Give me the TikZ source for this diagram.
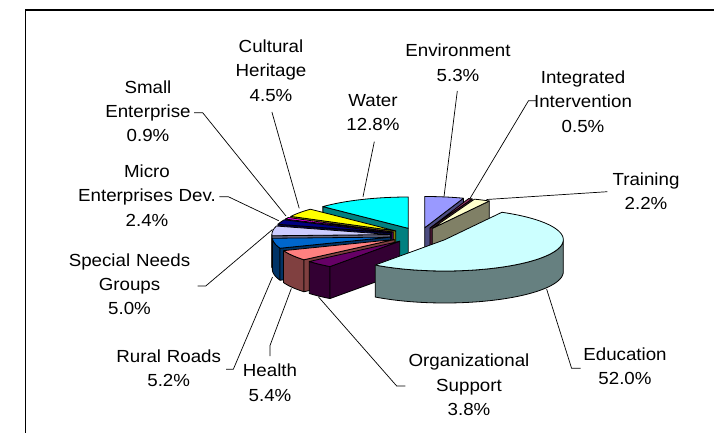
\documentclass[tikz,border=0pt]{standalone}
\usepackage{fontspec}
\setmainfont{Liberation Sans}[FakeStretch=1.07]
\definecolor{cEnv}{HTML}{9999FF}
\definecolor{cInt}{HTML}{993366}
\definecolor{cTrn}{HTML}{FFFFCC}
\definecolor{cEdu}{HTML}{CCFFFF}
\definecolor{cOrg}{HTML}{660066}
\definecolor{cHea}{HTML}{FF8080}
\definecolor{cRur}{HTML}{0066CC}
\definecolor{cSpe}{HTML}{CCCCFF}
\definecolor{cMic}{HTML}{000080}
\definecolor{cSma}{HTML}{FF00FF}
\definecolor{cCul}{HTML}{FFFF00}
\definecolor{cWat}{HTML}{00FFFF}
\tikzset{
  lab/.style={text width=170bp, align=center, anchor=base, inner sep=0pt,
    font=\fontsize{17.5bp}{24.4bp}\selectfont},
  leader/.style={line width=0.7bp, black},
  pieface/.style={draw=black, line width=0.8bp, line join=round}
}
\def\CX{419.8}\def\CY{235.5}\def\RA{118.5}\def\RB{31.3}\def\DD{32}\def\EXP{0.25}
\newcommand\pieslice[3]{%
  \pgfmathsetmacro\ts{#1*3.6}%
  \pgfmathsetmacro\te{#2*3.6}%
  \pgfmathsetmacro\tm{(\ts+\te)/2}%
  \pgfmathsetmacro\cxx{\CX+\EXP*\RA*sin(\tm)}%
  \pgfmathsetmacro\cyy{\CY-\EXP*\RB*cos(\tm)}%
  \pgfmathtruncatemacro\ns{max(4,(\te-\ts)/2)}%
  % outer side
  \pgfmathsetmacro\ta{max(\ts,90)}%
  \pgfmathsetmacro\tb{min(\te,270)}%
  \ifdim\ta pt<\tb pt
    \pgfmathtruncatemacro\nss{max(4,(\tb-\ta)/2)}%
    \path[pieface, fill=#3!50!black] plot[domain=\ta:\tb, samples=\nss, variable=\ang] ({\cxx+\RA*sin(\ang)},{\cyy-\RB*cos(\ang)}) -- plot[domain=\tb:\ta, samples=\nss, variable=\ang] ({\cxx+\RA*sin(\ang)},{\cyy-\RB*cos(\ang)+\DD}) -- cycle;
  \fi
  % radial face at start
  \pgfmathtruncatemacro\vs{sin(\ts)<-0.001 ? 1 : 0}%
  \ifnum\vs=1
    \pgfmathsetmacro\px{\cxx+\RA*sin(\ts)}\pgfmathsetmacro\py{\cyy-\RB*cos(\ts)}%
    \path[pieface, fill=#3!50!black] (\cxx,\cyy) -- (\px,\py) -- (\px,{\py+\DD}) -- (\cxx,{\cyy+\DD}) -- cycle;
  \fi
  % radial face at end
  \pgfmathtruncatemacro\ve{sin(\te)>0.001 ? 1 : 0}%
  \ifnum\ve=1
    \pgfmathsetmacro\px{\cxx+\RA*sin(\te)}\pgfmathsetmacro\py{\cyy-\RB*cos(\te)}%
    \path[pieface, fill=#3!50!black] (\cxx,\cyy) -- (\px,\py) -- (\px,{\py+\DD}) -- (\cxx,{\cyy+\DD}) -- cycle;
  \fi
  % top face
  \path[pieface, fill=#3] (\cxx,\cyy) -- plot[domain=\ts:\te, samples=\ns, variable=\ang] ({\cxx+\RA*sin(\ang)},{\cyy-\RB*cos(\ang)}) -- cycle;
}
\begin{document}
\begin{tikzpicture}[x=1bp,y=-1bp]
\useasboundingbox (0,0) rectangle (714,432);
\clip (0,0) rectangle (714,432);
\fill[white] (0,0) rectangle (714,432);
\draw[line width=1.3bp] (25.3,10) rectangle (740,460);

% pie slices (back to front)
\pieslice{0}{5.3}{cEnv}
\pieslice{5.3}{5.8}{cInt}
\pieslice{5.8}{8.0}{cTrn}
\pieslice{87.2}{100}{cWat}
\pieslice{82.7}{87.2}{cCul}
\pieslice{81.8}{82.7}{cSma}
\pieslice{79.4}{81.8}{cMic}
\pieslice{74.4}{79.4}{cSpe}
\pieslice{69.2}{74.4}{cRur}
\pieslice{63.8}{69.2}{cHea}
\pieslice{60.0}{63.8}{cOrg}
\pieslice{8.0}{60.0}{cEdu}

% labels
\node[lab] (env) at (458,56.7) {Environment\\5.3\%};
\node[lab] (int) at (583,83.3) {Integrated\\Intervention\\0.5\%};
\node[lab] (trn) at (646,185) {Training\\2.2\%};
\node[lab] (edu) at (625,360) {Education\\52.0\%};
\node[lab] (org) at (469,366.7) {Organizational\\Support\\3.8\%};
\node[lab] (hea) at (270,376.7) {Health\\5.4\%};
\node[lab] (rur) at (168.7,362.3) {Rural Roads\\5.2\%};
\node[lab] (spe) at (129.5,266) {Special Needs\\Groups\\5.0\%};
\node[lab] (mic) at (147,177.3) {Micro\\Enterprises Dev.\\2.4\%};
\node[lab] (sma) at (148,93) {Small\\Enterprise\\0.9\%};
\node[lab] (cul) at (271,52.5) {Cultural\\Heritage\\4.5\%};
\node[lab] (wat) at (373,106.5) {Water\\12.8\%};

% leader coordinates
\coordinate (envA) at (457.3,91);   \coordinate (envP) at (444,196.7);
\coordinate (intA) at (536,100.7);  \coordinate (intB) at (528.5,100.7); \coordinate (intP) at (469.5,199.3);
\coordinate (trnA) at (607.3,191.7); \coordinate (trnP) at (486.5,199.5);
\coordinate (eduA) at (580.6,368.3); \coordinate (eduB) at (571.6,368.3); \coordinate (eduP) at (546.6,289);
\coordinate (orgA) at (405.3,386);  \coordinate (orgB) at (396.7,386);  \coordinate (orgP) at (318.3,296.7);
\coordinate (heaA) at (270,356);    \coordinate (heaB) at (270,345.5);  \coordinate (heaP) at (291.4,288.3);
\coordinate (rurA) at (226,369.3);  \coordinate (rurB) at (233.3,369.3); \coordinate (rurP) at (272.5,277);
\coordinate (speA) at (197.7,286);  \coordinate (speB) at (205.7,286);  \coordinate (speP) at (272.5,229.5);
\coordinate (micA) at (219.3,196.7); \coordinate (micB) at (228.3,196.7); \coordinate (micP) at (278.7,220.7);
\coordinate (smaA) at (194,112.7);  \coordinate (smaB) at (202.7,112.7); \coordinate (smaP) at (286,216);
\coordinate (culA) at (271.9,112);  \coordinate (culP) at (299.2,208.3);
\coordinate (watA) at (374.3,141.7); \coordinate (watP) at (363,196.7);

\draw[leader] (envA) -- (envP);
\draw[leader] (intA) -- (intB) -- (intP);
\draw[leader] (trnA) -- (trnP);
\draw[leader] (eduA) -- (eduB) -- (eduP);
\draw[leader] (orgA) -- (orgB) -- (orgP);
\draw[leader] (heaA) -- (heaB) -- (heaP);
\draw[leader] (rurA) -- (rurB) -- (rurP);
\draw[leader] (speA) -- (speB) -- (speP);
\draw[leader] (micA) -- (micB) -- (micP);
\draw[leader] (smaA) -- (smaB) -- (smaP);
\draw[leader] (culA) -- (culP);
\draw[leader] (watA) -- (watP);
\end{tikzpicture}
\end{document}
